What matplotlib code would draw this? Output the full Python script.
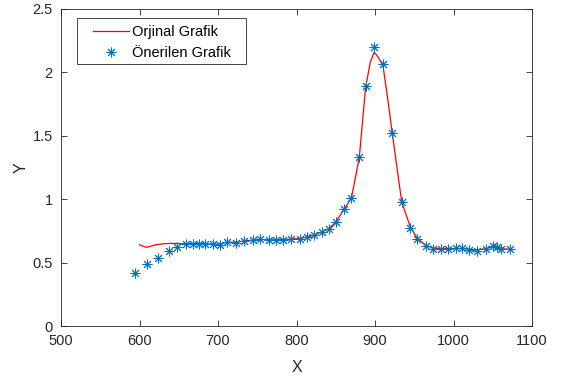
import matplotlib
matplotlib.use("Agg")
import matplotlib.pyplot as plt
from matplotlib.ticker import FuncFormatter
from matplotlib.patches import Rectangle

plt.rcParams['font.family'] = ['Liberation Sans', 'DejaVu Sans']

# Proposed (marker) series
marker_x = [594, 610, 624, 637, 648, 659, 668, 676, 684, 693, 702, 712, 723, 733,
            744, 754, 765, 774, 783, 793, 804, 813, 822, 832, 841, 850, 860, 870,
            880, 888, 899, 910, 922, 934, 945, 954, 965, 974, 984, 993, 1003, 1011,
            1020, 1030, 1041, 1050, 1055, 1060, 1072]
marker_y = [0.42, 0.49, 0.54, 0.59, 0.625, 0.645, 0.65, 0.65, 0.647, 0.647, 0.64,
            0.665, 0.657, 0.67, 0.678, 0.684, 0.678, 0.678, 0.68, 0.684, 0.69, 0.70,
            0.715, 0.744, 0.763, 0.82, 0.92, 1.007, 1.335, 1.89, 2.20, 2.07, 1.52,
            0.98, 0.775, 0.684, 0.63, 0.61, 0.61, 0.61, 0.615, 0.615, 0.60, 0.595,
            0.61, 0.63, 0.62, 0.61, 0.61]

# Original (line) series
line_x = [600, 609, 620, 630, 640, 650, 659, 668, 676, 684, 693, 702, 712, 723, 733,
          744, 754, 765, 774, 783, 793, 804, 813, 822, 832, 841, 850, 860, 870,
          880, 888, 894, 899, 904, 910, 916, 922, 934, 945, 954, 965, 974, 984, 993,
          1003, 1011, 1020, 1030, 1041, 1050, 1055, 1060, 1072]
line_y = [0.64, 0.62, 0.64, 0.648, 0.652, 0.65, 0.648, 0.65, 0.65, 0.647, 0.647, 0.645,
          0.662, 0.66, 0.67, 0.678, 0.682, 0.68, 0.68, 0.682, 0.686, 0.69, 0.70,
          0.715, 0.742, 0.765, 0.82, 0.915, 1.01, 1.33, 1.88, 2.08, 2.16, 2.12, 2.06,
          1.80, 1.52, 0.98, 0.78, 0.69, 0.635, 0.615, 0.61, 0.61, 0.612, 0.612, 0.605,
          0.60, 0.61, 0.625, 0.62, 0.61, 0.605]

x_ticks = [500, 600, 700, 800, 900, 1000, 1100]
y_ticks = [0, 0.5, 1, 1.5, 2, 2.5]
labels = ['Orjinal Grafik', 'Önerilen Grafik']

fig = plt.figure(figsize=(5.62, 3.8), dpi=100)
ax = fig.add_axes([61/562, 1-326/380, (532-61)/562, (326-9)/380])

ax.plot(line_x, line_y, color='#FF0000', lw=0.9, label=labels[0])
ax.plot(marker_x, marker_y, ls='none', marker=(8, 2, 0), color='#0072BD',
        markersize=7, markeredgewidth=0.7, label=labels[1])

ax.set_xlim(500, 1100)
ax.set_ylim(0, 2.5)
ax.set_xticks(x_ticks)
ax.set_yticks(y_ticks)
ax.yaxis.set_major_formatter(FuncFormatter(lambda v, p: f"{v:g}"))

grey = '#262626'
for s in ax.spines.values():
    s.set_color(grey)
    s.set_linewidth(0.6)
ax.tick_params(direction='in', top=True, right=True, length=4, width=0.6,
               colors=grey, labelsize=10.5, labelcolor=grey, pad=6)
ax.set_xlabel('X', fontsize=11.5, color=grey, labelpad=8.5)
ax.set_ylabel('Y', fontsize=11.5, color=grey, labelpad=3)

# legend box (MATLAB style, wide padding)
ax.add_patch(Rectangle((0.034, 0.8265), 0.359, 0.145, transform=ax.transAxes,
                       facecolor='white', edgecolor=grey, lw=0.6, zorder=4))
leg = ax.legend(loc='center left', bbox_to_anchor=(0.068, 0.894), fontsize=10.5,
                frameon=False, handlelength=2.5, borderpad=0, borderaxespad=0,
                labelspacing=0.45, handletextpad=0.2)
leg.set_zorder(5)

fig.savefig('out.png', dpi=100)
